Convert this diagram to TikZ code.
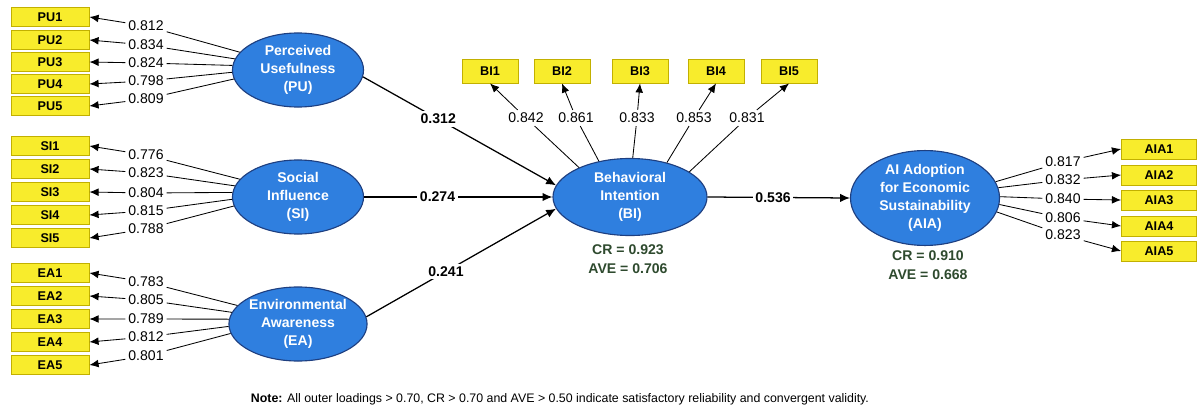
\documentclass[tikz,border=0pt]{standalone}
\usepackage{fontspec}
\setmainfont{Liberation Sans}
\usetikzlibrary{shapes.geometric,arrows.meta}
\definecolor{latentblue}{HTML}{2F7FDF}
\definecolor{latentedge}{HTML}{1E3F80}
\definecolor{itemyellow}{HTML}{F8EC2C}
\definecolor{itemedge}{HTML}{C2B000}
\definecolor{fitgreen}{HTML}{2E4A2E}

\begin{document}
\begin{tikzpicture}[x=0.025cm,y=-0.025cm,
  latent/.style={ellipse,draw=latentedge,line width=0.8pt,fill=latentblue,text=white,
    font=\bfseries\fontsize{10}{12.8}\selectfont,align=center,inner sep=0pt},
  item/.style={rectangle,draw=itemedge,line width=0.6pt,fill=itemyellow,
    font=\bfseries\fontsize{9}{10}\selectfont,inner sep=0pt},
  load/.style={-{Latex[length=6.5pt,width=5.5pt]},line width=0.6pt},
  path/.style={-{Latex[length=7pt,width=6pt]},line width=0.9pt},
  lab/.style={font=\fontsize{10}{12}\selectfont,inner sep=2pt},
  coef/.style={font=\bfseries\fontsize{10}{12}\selectfont,fill=white,inner sep=2pt},
  fit/.style={font=\bfseries\fontsize{10}{13.5}\selectfont,text=fitgreen,align=center}]

\useasboundingbox (0,0) rectangle (1198,414);

\node[latent,minimum width=3.275cm,minimum height=1.85cm] (PU) at (298,70) {Perceived\\Usefulness\\(PU)};
\node[latent,minimum width=3.275cm,minimum height=1.85cm] (SI) at (298,197) {Social\\Influence\\(SI)};
\node[latent,minimum width=3.275cm,minimum height=1.85cm] (EA) at (298,324) {Environmental\\Awareness\\(EA)};
\node[latent,minimum width=3.85cm,minimum height=1.925cm] (BI) at (630,197) {Behavioral\\Intention\\(BI)};
\node[latent,minimum width=3.725cm,minimum height=2.325cm] (AIA) at (925,198) {AI Adoption\\for Economic\\Sustainability\\(AIA)};

\foreach \i/\y/\ly/\a/\l in {1/17/26/163/0.812,2/40/45/170/0.834,3/62/63/176/0.824,4/84/81/182/0.798,5/106/99/188/0.809} {
  \node[item,minimum width=1.95cm,minimum height=0.475cm] (PU\i) at (50,\y) {PU\i};
  \node[lab] (lPU\i) at (146,\ly) {\l};
  \draw[load] (PU.\a) -- (lPU\i) -- (PU\i.east);
}
\foreach \i/\y/\ly/\a/\l in {1/146/155/163/0.776,2/169/173/170/0.823,3/192/193/176/0.804,4/215/211/182/0.815,5/238/229/188/0.788} {
  \node[item,minimum width=1.95cm,minimum height=0.475cm] (SI\i) at (50,\y) {SI\i};
  \node[lab] (lSI\i) at (146,\ly) {\l};
  \draw[load] (SI.\a) -- (lSI\i) -- (SI\i.east);
}
\foreach \i/\y/\ly/\a/\l in {1/273/282/163/0.783,2/296/300/170/0.805,3/319/319/176/0.789,4/342/337/182/0.812,5/365/356/188/0.801} {
  \node[item,minimum width=1.95cm,minimum height=0.475cm] (EA\i) at (50,\y) {EA\i};
  \node[lab] (lEA\i) at (146,\ly) {\l};
  \draw[load] (EA.\a) -- (lEA\i) -- (EA\i.east);
}
\foreach \i/\x/\lx/\a/\l in {1/490/526/150/0.842,2/562/576/131/0.861,3/640/637/86/0.833,4/716/694/43/0.853,5/789/747/23/0.831} {
  \node[item,minimum width=1.4cm,minimum height=0.6cm] (BI\i) at (\x,71) {BI\i};
  \node[lab] (lBI\i) at (\lx,118) {\l};
  \draw[load] (BI.\a) -- (lBI\i) -- (BI\i.south);
}
\foreach \i/\y/\ly/\a/\l in {1/149/162/13/0.817,2/175/180/8/0.832,3/200/199/1/0.840,4/226/218/-5/0.806,5/251/235/-11/0.823} {
  \node[item,minimum width=1.875cm,minimum height=0.5cm] (AIA\i) at (1159,\y) {AIA\i};
  \node[lab] (lAIA\i) at (1063,\ly) {\l};
  \draw[load] (AIA.\a) -- (lAIA\i) -- (AIA\i.west);
}

\draw[path] (PU.-6) -- node[coef,pos=0.39] {0.312} (BI.171);
\draw[path] (SI.east) -- node[coef,pos=0.39] {0.274} (BI.west);
\draw[path] (EA.6) -- node[coef,pos=0.42] {0.241} (BI.189);
\draw[path] (BI.east) -- node[coef,pos=0.46] {0.536} (AIA.west);

\node[fit] (BIfit) at (628,259) {CR = 0.923\\AVE = 0.706};
\node[fit] (AIAfit) at (928,265) {CR = 0.910\\AVE = 0.668};

\node[font=\fontsize{8.8}{10}\selectfont] (note) at (560,399) {\textbf{Note:} All outer loadings > 0.70, CR > 0.70 and AVE > 0.50 indicate satisfactory reliability and convergent validity.};

\end{tikzpicture}
\end{document}
